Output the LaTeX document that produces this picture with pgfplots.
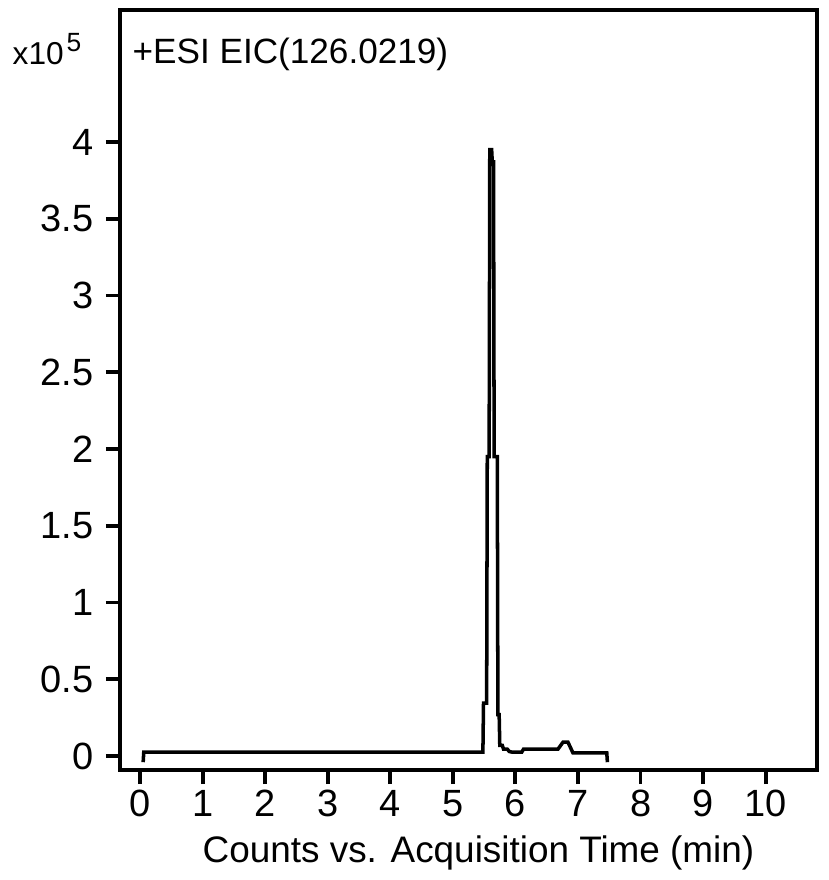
\documentclass[border=0pt]{standalone}
\usepackage{pgfplots}
\pgfplotsset{compat=1.18}
\usepackage{fontspec}
\setmainfont{Liberation Sans}

\begin{document}
\begin{tikzpicture}
\begin{axis}[
    scale only axis, width=69.7mm, height=76mm,
    xmin=-0.32, xmax=10.82, ymin=-0.091, ymax=4.86,
    axis line style={line width=1.3pt},
    xtick={0,1,...,10}, ytick={0,0.5,...,4},
    yticklabels={0,0.5,1,1.5,2,2.5,3,3.5,4},
    tick pos=left,
    tick align=outside, tick style={line width=1.1pt, black},
    major tick length=1.4mm,
    /pgf/number format/assume math mode=true,
    ticklabel style={font=\fontsize{10.8}{12}\selectfont},
    xticklabel style={yshift=0.6mm},
    xlabel={Counts vs. Acquisition Time (min)},
    xlabel style={font=\fontsize{10.5}{12}\selectfont, yshift=0.6mm, xshift=1mm},
    clip=false,
]
\addplot[black, line width=1pt, mark=none] coordinates {
(0.05,-0.04) (0.06,0.025) (5.48,0.025) (5.49,0.345) (5.54,0.345) (5.55,1.95)
(5.58,1.95) (5.59,3.95) (5.62,3.95) (5.63,3.87) (5.65,3.87) (5.66,1.95)
(5.71,1.95) (5.72,0.27) (5.74,0.27) (5.75,0.07) (5.79,0.07) (5.81,0.045)
(5.87,0.045) (5.9,0.03) (5.95,0.025) (6.1,0.025) (6.13,0.045) (6.68,0.045)
(6.76,0.09) (6.84,0.09) (6.92,0.02) (7.46,0.02) (7.47,-0.04)
};
\node[anchor=base west, inner sep=0pt, font=\fontsize{10}{12}\selectfont] at ([xshift=1.2mm]rel axis cs:0,0.93) {+ESI EIC(126.0219)};
\node[anchor=base west, inner sep=0pt, font=\fontsize{9}{11}\selectfont] at ([xshift=-10.8mm]rel axis cs:0,0.928) {x10\hspace{0.3mm}\raisebox{0.8ex}{\fontsize{7.5}{9}\selectfont 5}};
\coordinate (sw) at (rel axis cs:0,0);
\coordinate (ne) at (rel axis cs:1,1);
\end{axis}
\pgfresetboundingbox
\path ([shift={(-12mm,-11mm)}]sw) rectangle ([shift={(1.1mm,1mm)}]ne);
\end{tikzpicture}
\end{document}
